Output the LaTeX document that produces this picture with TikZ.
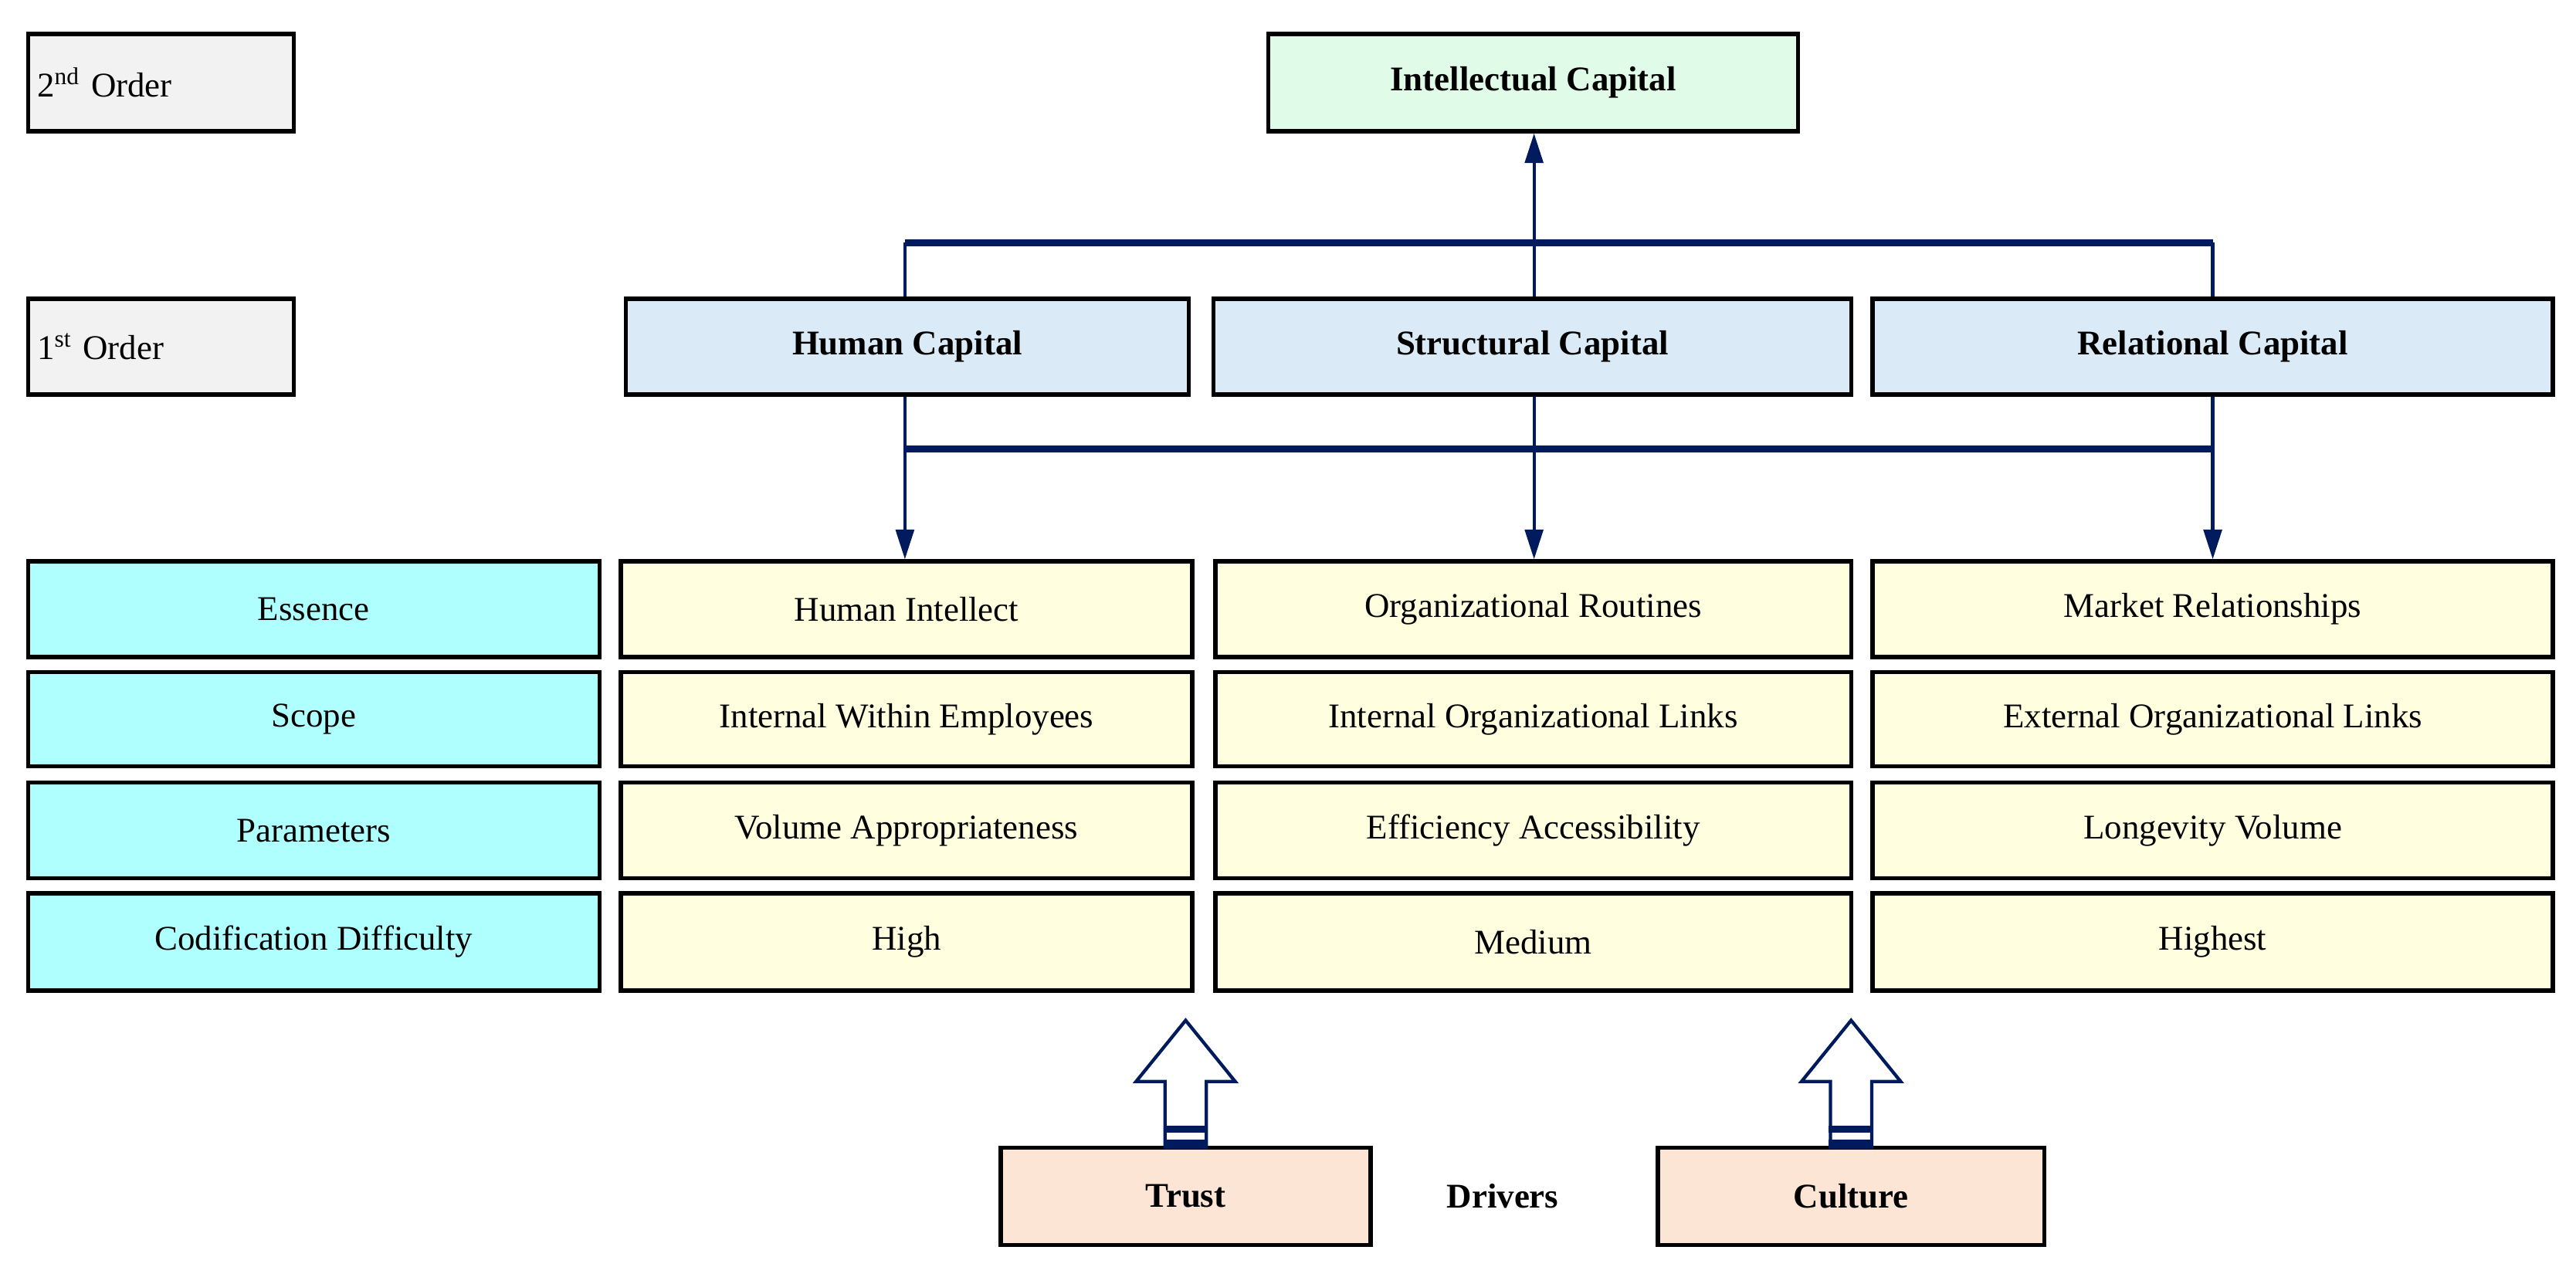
\documentclass[tikz,border=0pt]{standalone}
\usepackage{fontspec}
\setmainfont{Liberation Serif}
\usetikzlibrary{arrows.meta}
\definecolor{navy}{HTML}{001A5E}
\definecolor{gr}{HTML}{F2F2F2}
\definecolor{gn}{HTML}{E0FCE8}
\definecolor{bl}{HTML}{DAEBF7}
\definecolor{cy}{HTML}{B0FFFF}
\definecolor{yl}{HTML}{FFFFE0}
\definecolor{sa}{HTML}{FDE5D5}
\tikzset{
  box/.style={draw=black,line width=2.5pt,inner sep=0pt,font=\fontsize{21}{24}\selectfont},
  cell/.style 2 args={box,fill=#1,minimum height=#2},
  con/.style={draw=navy,line width=2pt},
  bus/.style={draw=navy,line width=4pt},
  arr/.style={con,-{Triangle[length=18pt,width=11pt]}},
}
\newcommand{\bx}[7]{\node[box,fill=#6,minimum width={#3-#2},minimum height={#5-#4},#7] (#1) at ({(#2+#3)/2},{(#4+#5)/2}) {};}
\begin{document}
\begin{tikzpicture}[x=1pt,y=-1pt]
\useasboundingbox (0,0) rectangle (1560,767);
% 2nd/1st order
\node[box,fill=gr,minimum width=161,minimum height=59,text width=150,align=left] (o2) at (97.5,50) {2\textsuperscript{nd} Order};
\node[box,fill=gr,minimum width=161,minimum height=58,text width=150,align=left] (o1) at (97.5,210) {1\textsuperscript{st} Order};
\node[box,fill=gn,minimum width=321,minimum height=59,font=\fontsize{21}{24}\selectfont\bfseries] (ic) at (928.5,50) {Intellectual Capital};
\node[box,fill=bl,minimum width=341,minimum height=58,font=\fontsize{21}{24}\selectfont\bfseries] (hc) at (549.5,210) {Human Capital};
\node[box,fill=bl,minimum width=386,minimum height=58,font=\fontsize{21}{24}\selectfont\bfseries] (sc) at (928,210) {Structural Capital};
\node[box,fill=bl,minimum width=412,minimum height=58,font=\fontsize{21}{24}\selectfont\bfseries] (rc) at (1340,210) {Relational Capital};
% connectors
\coordinate (bh) at (548,147); \coordinate (br) at (1340,147); \coordinate (bs) at (929,147);
\draw[bus] (bh) -- (br);
\draw[con] (hc.north -| bh) -- (bh);
\draw[con] (rc.north -| br) -- (br);
\draw[arr] (sc.north -| bs) -- (ic.south -| bs);
\coordinate (lh) at (548,272); \coordinate (lr) at (1340,272);
\draw[bus] (lh) -- (lr);
% rows
\def\rowA{369}\def\rowB{435.5}\def\rowC{503}\def\rowD{570.5}
\foreach \n/\y/\h/\t/\a/\b/\c in {
  e/369/58/Essence/Human Intellect/Organizational Routines/Market Relationships,
  s/435.5/57/Scope/Internal Within Employees/Internal Organizational Links/External Organizational Links,
  p/503/58/Parameters/Volume Appropriateness/Efficiency Accessibility/Longevity Volume,
  c/570.5/59/Codification Difficulty/High/Medium/Highest}{
  \node[box,fill=cy,minimum width=346,minimum height=\h] (\n0) at (190,\y) {\t};
  \node[box,fill=yl,minimum width=346,minimum height=\h] (\n1) at (549,\y) {\a};
  \node[box,fill=yl,minimum width=385,minimum height=\h] (\n2) at (928.5,\y) {\b};
  \node[box,fill=yl,minimum width=412,minimum height=\h] (\n3) at (1340,\y) {\c};
}
\draw[con] (hc.south -| lh) -- (lh);
\draw[arr] (lh) -- (e1.north -| lh);
\draw[arr] (sc.south -| 929,0) -- (e2.north -| 929,0);
\draw[arr] (rc.south -| lr) -- (e3.north -| lr);
% drivers
\node[box,fill=sa,minimum width=224,minimum height=59,font=\fontsize{21}{24}\selectfont\bfseries] (tr) at (718,724.5) {Trust};
\node[box,fill=sa,minimum width=234,minimum height=59,font=\fontsize{21}{24}\selectfont\bfseries] (cu) at (1121,724.5) {Culture};
\node[font=\fontsize{21}{24}\selectfont\bfseries] (dr) at (910,724.5) {Drivers};
\foreach \nm/\x in {tr/718,cu/1121}{
  \draw[navy,line width=2pt,fill=white,line join=miter]
    (\x-12.5,695) -- (\x-12.5,655) -- (\x-30,655) -- (\x,618) -- (\x+30,655) -- (\x+12.5,655) -- (\x+12.5,695) -- cycle;
  \fill[navy] (\x-13.5,682) rectangle (\x+13.5,686);
  \fill[navy] (\x-13.5,690) rectangle (\x+13.5,696);
}
\end{tikzpicture}
\end{document}
